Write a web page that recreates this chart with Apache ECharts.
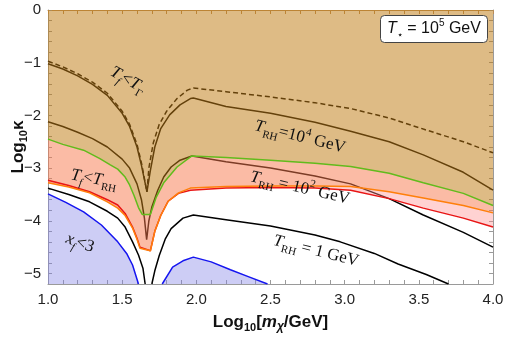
<!DOCTYPE html>
<html>
<head>
<meta charset="utf-8">
<script src="https://cdn.jsdelivr.net/npm/echarts@6/dist/echarts.min.js"></script>
<style>
html, body { margin: 0; padding: 0; background: #fff; }
#chart { width: 506px; height: 337px; }
</style>
</head>
<body>
<div id="chart"></div>
<script>
// curves: x = log10(m/GeV), y = log10(kappa)
var dashX = [1.0, 1.1, 1.2, 1.3, 1.4, 1.5, 1.55, 1.6, 1.63, 1.65, 1.667, 1.68, 1.71, 1.75, 1.8, 1.87, 1.94, 1.98, 2.2, 2.5, 2.8, 3.04, 3.3, 3.53, 3.8, 4.0];
var dashY = [-0.97, -1.08, -1.21, -1.37, -1.58, -1.92, -2.17, -2.55, -2.9, -3.2, -3.45, -3.0, -2.52, -2.17, -1.92, -1.68, -1.52, -1.48, -1.55, -1.65, -1.76, -1.87, -2.05, -2.26, -2.5, -2.71];

var gammaX = [1.0, 1.1, 1.2, 1.3, 1.4, 1.5, 1.55, 1.6, 1.63, 1.65, 1.667, 1.69, 1.72, 1.76, 1.82, 1.89, 1.96, 1.98, 2.2, 2.5, 2.8, 3.04, 3.3, 3.53, 3.8, 4.0];
var gammaY = [-1.02, -1.12, -1.25, -1.41, -1.62, -1.96, -2.21, -2.6, -2.95, -3.22, -3.45, -3.05, -2.6, -2.25, -1.99, -1.8, -1.68, -1.67, -1.83, -1.96, -2.13, -2.3, -2.5, -2.75, -3.08, -3.42];

var rh4X = [1.0, 1.1, 1.2, 1.3, 1.4, 1.5, 1.55, 1.6, 1.63, 1.65, 1.665, 1.68, 1.7, 1.74, 1.78, 1.83, 1.89, 1.97, 2.2, 2.5, 2.8, 3.04, 3.3, 3.53, 3.8, 4.0];
var rh4Y = [-2.12, -2.21, -2.32, -2.44, -2.6, -2.83, -3.0, -3.3, -3.6, -3.95, -4.36, -4.0, -3.74, -3.42, -3.17, -2.98, -2.85, -2.77, -2.88, -3.0, -3.15, -3.3, -3.58, -3.89, -4.22, -4.5];

var greenX = [1.0, 1.1, 1.24, 1.35, 1.42, 1.47, 1.52, 1.55, 1.58, 1.61, 1.635, 1.69, 1.73, 1.78, 1.87, 1.97, 2.2, 2.5, 2.8, 3.04, 3.3, 3.53, 3.8, 4.0];
var greenY = [-2.45, -2.55, -2.66, -2.82, -2.94, -3.02, -3.17, -3.32, -3.52, -3.75, -3.88, -3.88, -3.55, -3.28, -2.98, -2.77, -2.8, -2.85, -2.91, -2.97, -3.1, -3.28, -3.48, -3.71];

var orangeX = [1.0, 1.14, 1.28, 1.4, 1.47, 1.52, 1.57, 1.6, 1.62, 1.69, 1.72, 1.76, 1.81, 1.88, 1.96, 2.2, 2.5, 2.8, 3.04, 3.3, 3.53, 3.8, 4.0];
var orangeY = [-3.28, -3.36, -3.47, -3.64, -3.76, -3.9, -4.14, -4.35, -4.52, -4.57, -4.2, -3.9, -3.63, -3.47, -3.38, -3.35, -3.34, -3.34, -3.35, -3.45, -3.57, -3.71, -3.85];

var redX = [1.0, 1.14, 1.28, 1.4, 1.47, 1.52, 1.57, 1.6, 1.62, 1.69, 1.72, 1.76, 1.81, 1.88, 1.96, 2.2, 2.5, 2.8, 3.04, 3.3, 3.53, 3.8, 4.0];
var redY = [-3.23, -3.33, -3.45, -3.6, -3.7, -3.86, -4.12, -4.33, -4.5, -4.57, -4.2, -3.9, -3.63, -3.48, -3.42, -3.38, -3.37, -3.38, -3.42, -3.58, -3.76, -3.95, -4.12];

var oneLX = [1.0, 1.14, 1.28, 1.4, 1.47, 1.52, 1.57, 1.61, 1.64, 1.655];
var oneLY = [-3.38, -3.5, -3.64, -3.82, -3.95, -4.12, -4.4, -4.65, -4.9, -5.2];
var oneRX = [1.7, 1.72, 1.75, 1.79, 1.83, 1.91, 1.98, 2.2, 2.5, 2.8, 2.97, 3.2, 3.36, 3.55, 3.7];
var oneRY = [-5.2, -4.95, -4.66, -4.35, -4.15, -3.95, -3.89, -3.98, -4.1, -4.27, -4.4, -4.62, -4.82, -5.02, -5.2];

var blueLX = [1.0, 1.12, 1.24, 1.36, 1.47, 1.53, 1.57, 1.61];
var blueLY = [-3.49, -3.65, -3.83, -4.08, -4.4, -4.62, -4.84, -5.2];
var blueRX = [1.77, 1.84, 1.91, 1.98, 2.1, 2.23, 2.35, 2.48];
var blueRY = [-5.2, -4.88, -4.76, -4.69, -4.78, -4.93, -5.06, -5.2];

var xMin = 1, xMax = 4, yMin = -5.2, yMax = 0;

function zip(xs, ys) {
  return xs.map(function (x, i) { return [x, ys[i]]; });
}

var dash = zip(dashX, dashY);
var gamma = zip(gammaX, gammaY);
var rh4 = zip(rh4X, rh4Y);
var green = zip(greenX, greenY);
var orange = zip(orangeX, orangeY);
var red = zip(redX, redY);
var oneL = zip(oneLX, oneLY);
var oneR = zip(oneRX, oneRY);
var blueL = zip(blueLX, blueLY);
var blueR = zip(blueRX, blueRY);

// filled regions (polygons in data space)
var tanPoly = green.concat([[xMax, yMax], [xMin, yMax]]);
var salmonPoly = green.concat(orange.slice().reverse());
var pinkPoly = orange.concat(red.slice().reverse());
var blueLPoly = blueL.concat([[xMin, yMin]]);
var blueRPoly = blueR.slice();

function polySeries(pts, color) {
  return {
    type: 'custom',
    silent: true,
    clip: true,
    z: 3,
    data: pts,
    renderItem: function (params, api) {
      if (params.dataIndex !== 0) return;
      var points = pts.map(function (p) { return api.coord(p); });
      return { type: 'polygon', shape: { points: points }, style: { fill: color } };
    }
  };
}

function lineSeries(data, color, z, dashed) {
  return {
    type: 'line',
    data: data,
    showSymbol: false,
    silent: true,
    z: z,
    lineStyle: { color: color, width: 1.5, type: dashed ? [5, 3] : 'solid' }
  };
}

var tickFont = 'Liberation Sans';
var serif = 'Liberation Serif';

var labelRich = {
  t: { fontFamily: serif, fontStyle: 'italic', fontSize: 17, lineHeight: 24, fill: '#111' },
  r: { fontFamily: serif, fontSize: 17, lineHeight: 24, fill: '#111' },
  ts: { fontFamily: serif, fontStyle: 'italic', fontSize: 11, lineHeight: 12, verticalAlign: 'bottom', fill: '#111' },
  rs: { fontFamily: serif, fontSize: 11, lineHeight: 12, verticalAlign: 'bottom', fill: '#111' },
  rp: { fontFamily: serif, fontSize: 11, lineHeight: 12, verticalAlign: 'top', fill: '#111' }
};

function label(text, x, y, deg) {
  return {
    type: 'text',
    x: x, y: y,
    rotation: -deg * Math.PI / 180,
    z: 100,
    silent: true,
    style: { text: text, rich: labelRich, align: 'center', verticalAlign: 'middle' }
  };
}

var myChart = echarts.init(document.getElementById('chart'));

var axisGray = '#9a9a9a';

function xAx(pos, showLabel, lineColor) {
  return {
    type: 'value', position: pos, min: xMin, max: xMax, interval: 0.1,
    axisLine: { show: true, onZero: false, lineStyle: { color: lineColor } },
    axisTick: { show: true, inside: true, length: 4, lineStyle: { color: lineColor } },
    splitLine: { show: false },
    axisLabel: {
      show: showLabel, margin: 8, color: '#222', fontFamily: tickFont, fontSize: 15,
      formatter: function (v) {
        return Math.abs(v * 2 - Math.round(v * 2)) < 1e-6 ? v.toFixed(1) : '';
      }
    },
    name: showLabel ? '{a|Log}{s|10}{a|[}{i|m}{si|χ}{a|/GeV]}' : '',
    nameLocation: 'middle', nameGap: 27, nameMoveOverlap: false,
    nameTextStyle: {
      rich: {
        a: { fontFamily: tickFont, fontWeight: 'bold', fontSize: 17, lineHeight: 22, color: '#111' },
        i: { fontFamily: tickFont, fontWeight: 'bold', fontStyle: 'italic', fontSize: 17, lineHeight: 22, color: '#111' },
        s: { fontFamily: tickFont, fontWeight: 'bold', fontSize: 11, lineHeight: 12, verticalAlign: 'bottom', color: '#111' },
        si: { fontFamily: tickFont, fontWeight: 'bold', fontStyle: 'italic', fontSize: 12, lineHeight: 12, verticalAlign: 'bottom', color: '#111' }
      }
    }
  };
}

function yAx(pos, showLabel) {
  return {
    type: 'value', position: pos, min: yMin, max: yMax, interval: 0.2,
    axisLine: { show: true, onZero: false, lineStyle: { color: axisGray } },
    axisTick: { show: true, inside: true, length: 4, lineStyle: { color: axisGray } },
    splitLine: { show: false },
    axisLabel: {
      show: showLabel, margin: 7, color: '#222', fontFamily: tickFont, fontSize: 15,
      formatter: function (v) {
        if (Math.abs(v - Math.round(v)) > 1e-6) return '';
        var n = Math.round(v);
        return n === 0 ? '0' : '\u2212' + Math.abs(n);
      }
    },
    name: showLabel ? '{a|Log}{s|10}{a|κ}' : '',
    nameLocation: 'middle', nameGap: 19, nameRotate: 90, nameMoveOverlap: false,
    nameTextStyle: {
      rich: {
        a: { fontFamily: tickFont, fontWeight: 'bold', fontSize: 17, lineHeight: 22, color: '#111' },
        s: { fontFamily: tickFont, fontWeight: 'bold', fontSize: 11, lineHeight: 12, verticalAlign: 'bottom', color: '#111' }
      }
    }
  };
}

var option = {
  animation: false,
  grid: { left: 48, right: 13, top: 10, bottom: 53, containLabel: false, outerBoundsMode: 'none' },
  xAxis: [xAx('bottom', true, axisGray), xAx('top', false, '#b98c58')],
  yAxis: [yAx('left', true), yAx('right', false)],
  series: [
    // black curves sit under the tinted regions
    lineSeries(dash, '#000', 2, true),
    lineSeries(gamma, '#000', 2, false),
    lineSeries(rh4, '#000', 2, false),
    lineSeries(oneL, '#000', 2, false),
    lineSeries(oneR, '#000', 2, false),
    polySeries(tanPoly, 'rgba(192,125,21,0.52)'),
    polySeries(salmonPoly, 'rgba(247,119,75,0.5)'),
    polySeries(pinkPoly, 'rgba(255,142,142,0.4)'),
    polySeries(blueLPoly, 'rgba(130,130,230,0.4)'),
    polySeries(blueRPoly, 'rgba(130,130,230,0.4)'),
    lineSeries(red, '#e81515', 4, false),
    lineSeries(orange, '#ff7f0a', 5, false),
    lineSeries(green, '#62bb1c', 5, false),
    lineSeries(blueL, '#1515f0', 5, false),
    lineSeries(blueR, '#1515f0', 5, false)
  ],
  graphic: [
    label('{t|T}{ts|f}{r|<}{t|T}{rs|Γ}', 128, 80, 30),
    label('{t|T}{rs|RH}{r|=10}{rp|4}{r| GeV}', 300, 137, 14),
    label('{t|T}{rs|RH}{r| = 10}{rp|2}{r| GeV}', 300, 188, 13),
    label('{t|T}{rs|RH}{r| = 1 GeV}', 316, 251, 14),
    label('{t|T}{ts|f}{r|<}{t|T}{rs|RH}', 94, 179, 10),
    label('{t|x}{ts|f}{r|<3}', 80, 243, 20),
    { type: 'rect', z: 100, silent: true,
      shape: { x: 380.5, y: 15.5, width: 107, height: 27, r: 4 },
      style: { fill: '#fff', stroke: '#444', lineWidth: 1 } },
    { type: 'text', z: 101, silent: true, x: 434, y: 29,
      style: {
        text: '{i|T}{s|⋆}{a| = 10}{p|5}{a| GeV}',
        align: 'center', verticalAlign: 'middle',
        rich: {
          a: { fontFamily: tickFont, fontSize: 16, lineHeight: 22, fill: '#111' },
          i: { fontFamily: tickFont, fontStyle: 'italic', fontSize: 16, lineHeight: 22, fill: '#111' },
          s: { fontFamily: tickFont, fontSize: 10, lineHeight: 11, verticalAlign: 'bottom', fill: '#111' },
          p: { fontFamily: tickFont, fontSize: 10, lineHeight: 11, verticalAlign: 'top', fill: '#111' }
        }
      } }
  ]
};

myChart.setOption(option);
</script>
</body>
</html>
